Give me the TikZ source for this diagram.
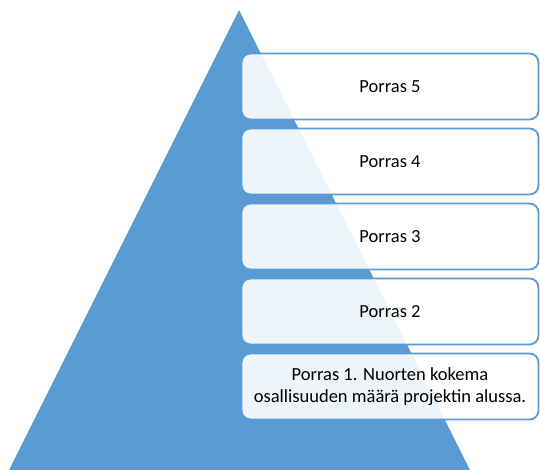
\documentclass[tikz,border=0pt]{standalone}
\usepackage{fontspec}
\setmainfont{Carlito}
\definecolor{pyr}{HTML}{5B9BD5}
\begin{document}
\begin{tikzpicture}[x=1pt,y=-1pt,
  stepbox/.style={draw=pyr,line width=1.8pt,rounded corners=9pt,fill=white,fill opacity=0.9,text opacity=1,
    minimum width=297pt,minimum height=66pt,inner sep=0pt,align=center,font=\fontsize{18.5}{21.5}\selectfont,text=black}]
\useasboundingbox (0,0) rectangle (540,470);
\fill[pyr] (239,10) -- (470,470) -- (9,470) -- cycle;
\node[stepbox] (s5) at (390,86.5) {Porras 5};
\node[stepbox] (s4) at (390,161.5) {Porras 4};
\node[stepbox] (s3) at (390,236.5) {Porras 3};
\node[stepbox] (s2) at (390,311.5) {Porras 2};
\node[stepbox] (s1) at (390,386.5) {Porras 1. Nuorten kokema\\osallisuuden määrä projektin alussa.};
\end{tikzpicture}
\end{document}
